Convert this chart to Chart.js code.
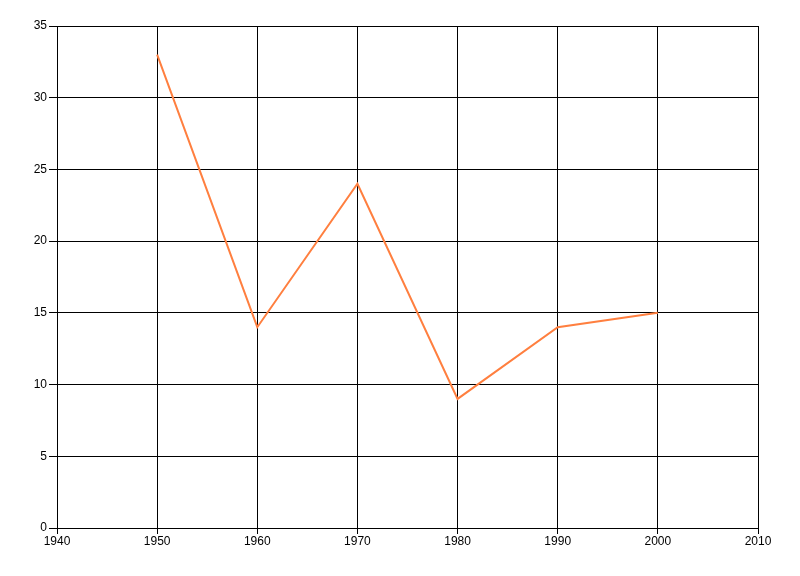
<!DOCTYPE html>
<html>
<head>
<meta charset="utf-8">
<script src="https://cdn.jsdelivr.net/npm/chart.js@4"></script>
<style>
html,body{margin:0;padding:0;background:#fff;}
canvas{display:block;}
</style>
</head>
<body>
<canvas id="c" width="800" height="576"></canvas>
<script>
const years = [1950, 1960, 1970, 1980, 1990, 2000];
const values = [33, 14, 24, 9, 14, 15];
const xTicks = [1940, 1950, 1960, 1970, 1980, 1990, 2000, 2010];
const yTicks = [0, 5, 10, 15, 20, 25, 30, 35];

const points = years.map((y, i) => ({x: y, y: values[i]}));
const tickFont = {family: "'Liberation Sans Narrow', 'Liberation Sans', sans-serif", size: 12};

new Chart(document.getElementById('c'), {
  type: 'scatter',
  data: {
    datasets: [{
      data: points,
      showLine: true,
      borderColor: '#FF7F3F',
      backgroundColor: '#FF7F3F',
      borderWidth: 2,
      pointRadius: 0,
      tension: 0
    }]
  },
  options: {
    responsive: false,
    animation: false,
    layout: {padding: {left: 0, top: 26, right: 42, bottom: 0}},
    plugins: {legend: {display: false}, tooltip: {enabled: false}},
    scales: {
      x: {
        type: 'linear',
        min: xTicks[0], max: xTicks[xTicks.length - 1],
        afterBuildTicks: s => { s.ticks = xTicks.map(v => ({value: v})); },
        afterFit: s => { s.height = 48; },
        grid: {color: '#000', lineWidth: 1, tickLength: 6, tickColor: '#000'},
        border: {color: '#000', width: 1},
        ticks: {color: '#000', font: tickFont, padding: 0, maxRotation: 0, autoSkip: false, callback: v => String(v)}
      },
      y: {
        min: yTicks[0], max: yTicks[yTicks.length - 1],
        afterBuildTicks: s => { s.ticks = yTicks.map(v => ({value: v})); },
        afterFit: s => { s.width = 57; },
        grid: {color: '#000', lineWidth: 1, tickLength: 8, tickColor: '#000'},
        border: {color: '#000', width: 1},
        ticks: {color: '#000', font: tickFont, padding: 2, autoSkip: false, callback: v => String(v)}
      }
    }
  }
});
</script>
</body>
</html>
